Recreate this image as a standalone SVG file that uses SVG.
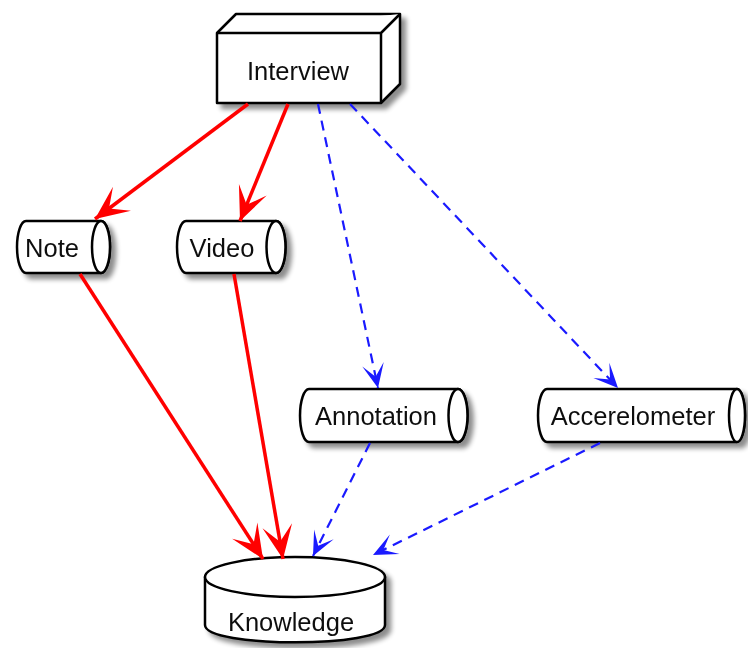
<svg xmlns="http://www.w3.org/2000/svg" width="748" height="648" viewBox="0 0 748 648">
<style>
.node{fill:#ffffff;stroke:#000000;stroke-width:2.5;stroke-linejoin:round}
.lbl{font-family:"Liberation Sans",Arial,sans-serif;font-size:25.5px;fill:#111111;text-anchor:middle}
.red{stroke:#ff0000;stroke-width:3.5;fill:none;marker-end:url(#ahRed)}
.blue{stroke:#1a1aff;stroke-width:2.2;fill:none;stroke-dasharray:10 7;marker-end:url(#ahBlue)}
</style>
<defs>
<filter id="sh" x="-20%" y="-20%" width="150%" height="160%">
<feGaussianBlur in="SourceAlpha" stdDeviation="2.5"/>
<feOffset dx="5" dy="5" result="b"/>
<feComponentTransfer><feFuncA type="linear" slope="0.45"/></feComponentTransfer>
<feMerge><feMergeNode/><feMergeNode in="SourceGraphic"/></feMerge>
</filter>
<marker id="ahRed" markerUnits="userSpaceOnUse" markerWidth="40" markerHeight="40" viewBox="-30 -15 32 30" refX="0" refY="0" orient="auto">
<path d="M0,0 L-27,-12 L-14,0 L-27,12 Z" fill="#ff0000"/>
</marker>
<marker id="ahBlue" markerUnits="userSpaceOnUse" markerWidth="30" markerHeight="30" viewBox="-24 -12 26 24" refX="0" refY="0" orient="auto">
<path d="M0,0 L-21,-9.5 L-10,0 L-21,9.5 Z" fill="#1a1aff"/>
</marker>
</defs>

<g id="interview" filter="url(#sh)">
<path class="node" d="M217,33 L236,14 L400,14 L400,84 L381,103 L217,103 Z"/>
<path class="node" d="M217,33 L381,33 L400,14 M381,33 L381,103" fill="none"/>
<text class="lbl" x="298" y="80">Interview</text>
</g>

<g id="note" filter="url(#sh)">
<path class="node" d="M26,221 L101,221 A9,26 0 0 1 101,273 L26,273 A9,26 0 0 1 26,221 Z"/>
<ellipse class="node" cx="101" cy="247" rx="9" ry="26"/>
<text class="lbl" x="52" y="257">Note</text>
</g>

<g id="video" filter="url(#sh)">
<path class="node" d="M186,221 L276,221 A9.5,26 0 0 1 276,273 L186,273 A9,26 0 0 1 186,221 Z"/>
<ellipse class="node" cx="276" cy="247" rx="9.5" ry="26"/>
<text class="lbl" x="222" y="257">Video</text>
</g>

<g id="annotation" filter="url(#sh)">
<path class="node" d="M309,389 L458,389 A9.5,26.5 0 0 1 458,442 L309,442 A9,26.5 0 0 1 309,389 Z"/>
<ellipse class="node" cx="458" cy="415.5" rx="9.5" ry="26.5"/>
<text class="lbl" x="376" y="425">Annotation</text>
</g>

<g id="accerelometer" filter="url(#sh)">
<path class="node" d="M547,389 L737,389 A8,26.5 0 0 1 737,442 L547,442 A9,26.5 0 0 1 547,389 Z"/>
<ellipse class="node" cx="737" cy="415.5" rx="8" ry="26.5"/>
<text class="lbl" x="633" y="425">Accerelometer</text>
</g>

<g id="knowledge" filter="url(#sh)">
<path class="node" d="M205,577 L205,625 C205,648 385,648 385,625 L385,577 Z"/>
<ellipse class="node" cx="295" cy="577" rx="90" ry="20"/>
<text class="lbl" x="291" y="631">Knowledge</text>
</g>

<g id="connectors">
<line class="red" x1="248" y1="104" x2="95" y2="219"/>
<line class="red" x1="288" y1="104" x2="240" y2="221"/>
<line class="red" x1="80" y1="274" x2="263" y2="559"/>
<line class="red" x1="234" y1="274" x2="283" y2="559"/>
<line class="blue" x1="318" y1="104" x2="378" y2="388"/>
<line class="blue" x1="350" y1="104" x2="618" y2="388"/>
<line class="blue" x1="370" y1="443" x2="313" y2="556"/>
<line class="blue" x1="600" y1="443" x2="373" y2="555"/>
</g>
</svg>
